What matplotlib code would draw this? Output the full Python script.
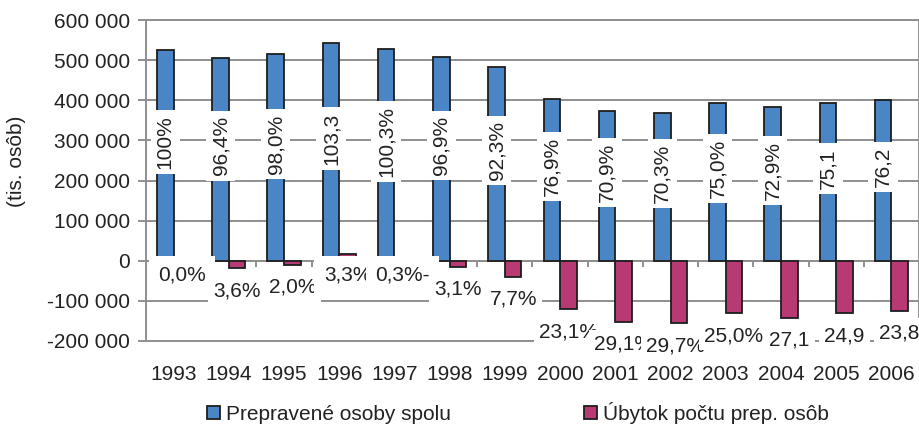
import matplotlib
matplotlib.use("Agg")
import matplotlib.pyplot as plt
from matplotlib.ticker import FuncFormatter, MultipleLocator

plt.rcParams["font.family"] = ["Liberation Sans", "DejaVu Sans"]

years = ["1993", "1994", "1995", "1996", "1997", "1998", "1999",
         "2000", "2001", "2002", "2003", "2004", "2005", "2006"]
transported = [525000, 506000, 515000, 542000, 527000, 508000, 483000,
               403000, 373000, 368000, 393000, 382000, 393000, 400000]
decline = [0, -19000, -10500, 17000, 1600, -16000, -40000,
           -121000, -153000, -156000, -131000, -142000, -131000, -125000]
transported_labels = ["100%", "96,4%", "98,0%", "103,3", "100,3%", "96,9%", "92,3%",
                      "76,9%", "70,9%", "70,3%", "75,0%", "72,9%", "75,1", "76,2"]
decline_labels = ["0,0%", "3,6%", "2,0%", "3,3%", "0,3%-", "3,1%", "7,7%",
                  "23,1%", "29,1%", "29,7%-", "25,0%", "27,1", "24,9", "23,8"]

BLUE = "#4a86c6"
PINK = "#b83a73"
GRID = "#8f8f8f"
TEXT = "#222222"
FS = 15

fig = plt.figure(figsize=(9.2, 4.26), dpi=100)
ax = fig.add_axes([146 / 920, 1 - 341 / 426, 773 / 920, 321 / 426])

x = list(range(len(years)))
width = 0.30
bx = [i - width / 2 for i in x]
px = [i + width / 2 for i in x]

ax.bar(bx, transported, width, color=BLUE, edgecolor="#1e1e1e", linewidth=1.3, zorder=3,
       label="Prepravené osoby spolu")
ax.bar(px, decline, width, color=PINK, edgecolor="#1e1e1e", linewidth=1.3, zorder=3,
       label="Úbytok počtu prep. osôb")

box = dict(boxstyle="square,pad=0.25", facecolor="white", edgecolor="none")
tall_box = dict(boxstyle="square,pad=0.45", facecolor="white", edgecolor="none")
for xi, v, lab in zip(bx, transported, transported_labels):
    ax.annotate(lab, (xi, v / 2), xytext=(0, 9.7), textcoords="offset points",
                rotation=90, ha="center", va="center", fontsize=FS, color=TEXT,
                bbox=box, zorder=5)
for xi, v, lab in zip(px, decline, decline_labels):
    neg = v < 0
    ax.annotate(lab, (xi, min(v, 0)), xytext=(0, -16 if neg else -10),
                textcoords="offset points", ha="center", va="center", fontsize=FS,
                color=TEXT, bbox=box if neg else tall_box, zorder=5,
                annotation_clip=False)

ax.set_xlim(-0.5, len(years) - 0.5)
ax.set_ylim(-200000, 600000)
ax.yaxis.set_major_locator(MultipleLocator(100000))
ax.yaxis.set_major_formatter(FuncFormatter(lambda v, _: f"{int(v):,}".replace(",", " ")))
ax.grid(axis="y", color=GRID, linewidth=1.4, zorder=0)
ax.axhline(0, color=GRID, linewidth=1.4, zorder=1)
# small tick marks on the zero line between categories
ax.vlines([i + 0.5 for i in x[:-1]], -15000, 0, color=GRID, linewidth=1.4, zorder=1)

ax.set_xticks(x)
ax.set_xticklabels(years)
ax.tick_params(axis="x", length=0, pad=17, labelsize=FS, labelcolor=TEXT)
ax.tick_params(axis="y", length=5.5, width=1.4, color=GRID, pad=6, labelsize=FS, labelcolor=TEXT)
for s in ax.spines.values():
    s.set_color(GRID)
    s.set_linewidth(1.4)

fig.text(17 / 920, 1 - 161 / 426, "(tis. osôb)", rotation=90, ha="center", va="center",
         fontsize=FS, color=TEXT)

fig.legend(loc="center", bbox_to_anchor=(518 / 920, 1 - 413 / 426), ncol=2, frameon=False,
           fontsize=FS, handlelength=0.6, handleheight=0.6, handletextpad=0.3,
           columnspacing=6.4, labelcolor=TEXT)

fig.savefig("out.png", dpi=100)
